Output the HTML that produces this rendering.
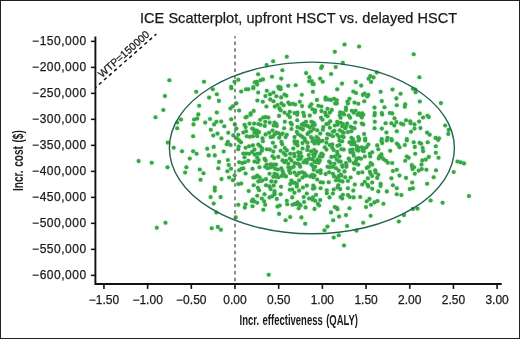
<!DOCTYPE html>
<html><head><meta charset="utf-8"><style>
html,body{margin:0;padding:0;background:#fff;}
svg{display:block;}
text{font-family:"Liberation Sans",Arial,sans-serif;fill:#1a1a1a;}
.b{stroke:#1a1a1a;stroke-width:0.25px;}
</style></head><body>
<svg width="520" height="339" viewBox="0 0 520 339">
<rect x="0.5" y="0.5" width="519" height="338" fill="#fff" stroke="#222" stroke-width="1"/>
<text x="140" y="23" font-size="14.5" textLength="317.2" lengthAdjust="spacing" class="b">ICE Scatterplot, upfront HSCT vs. delayed HSCT</text>
<g fill="#37a647" style="filter:drop-shadow(0 0 1px rgba(110,210,120,0.5))"><circle cx="169.4" cy="80.2" r="2.05"/><circle cx="164.9" cy="96.0" r="2.05"/><circle cx="163.3" cy="110.0" r="2.05"/><circle cx="155.5" cy="117.2" r="2.05"/><circle cx="199.2" cy="105.8" r="2.05"/><circle cx="196.2" cy="91.8" r="2.05"/><circle cx="138.6" cy="161.1" r="2.05"/><circle cx="151.7" cy="162.8" r="2.05"/><circle cx="167.5" cy="167.2" r="2.05"/><circle cx="167.8" cy="142.6" r="2.05"/><circle cx="173.7" cy="147.7" r="2.05"/><circle cx="165.5" cy="222.8" r="2.05"/><circle cx="156.8" cy="227.8" r="2.05"/><circle cx="204.0" cy="81.7" r="2.05"/><circle cx="234.5" cy="81.7" r="2.05"/><circle cx="238.3" cy="79.8" r="2.05"/><circle cx="231.1" cy="86.8" r="2.05"/><circle cx="254.8" cy="82.2" r="2.05"/><circle cx="253.4" cy="87.1" r="2.05"/><circle cx="273.1" cy="61.2" r="2.05"/><circle cx="266.6" cy="65.1" r="2.05"/><circle cx="282.4" cy="70.3" r="2.05"/><circle cx="258.1" cy="74.2" r="2.05"/><circle cx="272.0" cy="76.8" r="2.05"/><circle cx="281.2" cy="78.6" r="2.05"/><circle cx="260.5" cy="80.2" r="2.05"/><circle cx="263.0" cy="79.4" r="2.05"/><circle cx="256.8" cy="81.9" r="2.05"/><circle cx="257.2" cy="84.4" r="2.05"/><circle cx="278.3" cy="86.9" r="2.05"/><circle cx="280.4" cy="87.3" r="2.05"/><circle cx="288.2" cy="85.8" r="2.05"/><circle cx="295.7" cy="85.2" r="2.05"/><circle cx="286.8" cy="56.8" r="2.05"/><circle cx="334.8" cy="51.8" r="2.05"/><circle cx="306.1" cy="73.1" r="2.05"/><circle cx="309.4" cy="77.2" r="2.05"/><circle cx="309.2" cy="81.3" r="2.05"/><circle cx="311.7" cy="81.1" r="2.05"/><circle cx="312.5" cy="84.0" r="2.05"/><circle cx="313.8" cy="84.1" r="2.05"/><circle cx="322.0" cy="66.4" r="2.05"/><circle cx="321.2" cy="67.9" r="2.05"/><circle cx="320.1" cy="78.6" r="2.05"/><circle cx="322.7" cy="81.7" r="2.05"/><circle cx="331.1" cy="74.0" r="2.05"/><circle cx="335.7" cy="67.0" r="2.05"/><circle cx="344.5" cy="44.5" r="2.05"/><circle cx="359.1" cy="46.5" r="2.05"/><circle cx="413.7" cy="54.2" r="2.05"/><circle cx="376.8" cy="72.5" r="2.05"/><circle cx="342.8" cy="62.9" r="2.05"/><circle cx="370.3" cy="76.1" r="2.05"/><circle cx="373.6" cy="77.4" r="2.05"/><circle cx="368.6" cy="78.8" r="2.05"/><circle cx="371.1" cy="81.9" r="2.05"/><circle cx="355.8" cy="82.1" r="2.05"/><circle cx="342.0" cy="83.6" r="2.05"/><circle cx="361.2" cy="85.6" r="2.05"/><circle cx="419.4" cy="77.2" r="2.05"/><circle cx="231.4" cy="88.2" r="2.05"/><circle cx="216.8" cy="94.2" r="2.05"/><circle cx="218.9" cy="100.9" r="2.05"/><circle cx="236.4" cy="103.2" r="2.05"/><circle cx="232.8" cy="106.3" r="2.05"/><circle cx="230.5" cy="108.4" r="2.05"/><circle cx="239.1" cy="110.5" r="2.05"/><circle cx="216.8" cy="112.5" r="2.05"/><circle cx="241.2" cy="91.5" r="2.05"/><circle cx="246.0" cy="89.2" r="2.05"/><circle cx="248.3" cy="89.2" r="2.05"/><circle cx="253.3" cy="88.2" r="2.05"/><circle cx="253.7" cy="110.9" r="2.05"/><circle cx="250.6" cy="113.4" r="2.05"/><circle cx="216.4" cy="121.7" r="2.05"/><circle cx="221.2" cy="121.5" r="2.05"/><circle cx="224.3" cy="126.3" r="2.05"/><circle cx="231.2" cy="119.2" r="2.05"/><circle cx="234.8" cy="124.4" r="2.05"/><circle cx="236.4" cy="128.6" r="2.05"/><circle cx="228.3" cy="132.8" r="2.05"/><circle cx="217.5" cy="133.6" r="2.05"/><circle cx="221.4" cy="138.2" r="2.05"/><circle cx="233.3" cy="135.4" r="2.05"/><circle cx="238.3" cy="134.8" r="2.05"/><circle cx="236.8" cy="138.2" r="2.05"/><circle cx="245.6" cy="117.5" r="2.05"/><circle cx="246.8" cy="116.7" r="2.05"/><circle cx="250.6" cy="114.8" r="2.05"/><circle cx="244.5" cy="124.8" r="2.05"/><circle cx="245.6" cy="127.1" r="2.05"/><circle cx="249.5" cy="123.6" r="2.05"/><circle cx="254.1" cy="123.6" r="2.05"/><circle cx="243.3" cy="132.5" r="2.05"/><circle cx="246.0" cy="131.3" r="2.05"/><circle cx="246.8" cy="136.3" r="2.05"/><circle cx="249.8" cy="136.7" r="2.05"/><circle cx="252.9" cy="136.3" r="2.05"/><circle cx="253.7" cy="129.4" r="2.05"/><circle cx="254.5" cy="132.5" r="2.05"/><circle cx="252.2" cy="128.6" r="2.05"/><circle cx="212.8" cy="89.2" r="2.05"/><circle cx="209.1" cy="97.6" r="2.05"/><circle cx="198.3" cy="114.4" r="2.05"/><circle cx="194.1" cy="119.5" r="2.05"/><circle cx="197.2" cy="118.6" r="2.05"/><circle cx="193.5" cy="124.4" r="2.05"/><circle cx="181.0" cy="119.5" r="2.05"/><circle cx="177.2" cy="122.5" r="2.05"/><circle cx="177.2" cy="128.2" r="2.05"/><circle cx="205.2" cy="122.6" r="2.05"/><circle cx="210.0" cy="119.0" r="2.05"/><circle cx="214.1" cy="124.4" r="2.05"/><circle cx="210.8" cy="129.8" r="2.05"/><circle cx="213.3" cy="135.5" r="2.05"/><circle cx="193.1" cy="136.3" r="2.05"/><circle cx="258.2" cy="92.5" r="2.05"/><circle cx="266.8" cy="90.7" r="2.05"/><circle cx="279.1" cy="88.4" r="2.05"/><circle cx="280.6" cy="89.2" r="2.05"/><circle cx="270.0" cy="94.2" r="2.05"/><circle cx="273.5" cy="92.5" r="2.05"/><circle cx="265.4" cy="96.1" r="2.05"/><circle cx="276.4" cy="96.3" r="2.05"/><circle cx="281.2" cy="97.4" r="2.05"/><circle cx="284.5" cy="94.5" r="2.05"/><circle cx="286.4" cy="95.7" r="2.05"/><circle cx="257.4" cy="100.5" r="2.05"/><circle cx="262.8" cy="101.7" r="2.05"/><circle cx="270.2" cy="99.4" r="2.05"/><circle cx="273.5" cy="101.2" r="2.05"/><circle cx="266.4" cy="106.5" r="2.05"/><circle cx="274.8" cy="106.6" r="2.05"/><circle cx="277.5" cy="105.1" r="2.05"/><circle cx="281.4" cy="103.4" r="2.05"/><circle cx="283.7" cy="105.3" r="2.05"/><circle cx="288.3" cy="102.6" r="2.05"/><circle cx="289.8" cy="104.2" r="2.05"/><circle cx="292.9" cy="103.8" r="2.05"/><circle cx="295.2" cy="104.5" r="2.05"/><circle cx="279.5" cy="108.4" r="2.05"/><circle cx="280.6" cy="110.3" r="2.05"/><circle cx="284.5" cy="112.6" r="2.05"/><circle cx="289.8" cy="111.8" r="2.05"/><circle cx="294.5" cy="113.0" r="2.05"/><circle cx="312.9" cy="91.8" r="2.05"/><circle cx="301.8" cy="94.8" r="2.05"/><circle cx="316.9" cy="99.9" r="2.05"/><circle cx="299.8" cy="101.7" r="2.05"/><circle cx="302.0" cy="106.1" r="2.05"/><circle cx="311.4" cy="104.2" r="2.05"/><circle cx="309.8" cy="106.5" r="2.05"/><circle cx="312.5" cy="109.2" r="2.05"/><circle cx="315.2" cy="110.3" r="2.05"/><circle cx="314.8" cy="112.2" r="2.05"/><circle cx="318.3" cy="105.7" r="2.05"/><circle cx="321.4" cy="106.5" r="2.05"/><circle cx="321.4" cy="111.1" r="2.05"/><circle cx="325.6" cy="97.6" r="2.05"/><circle cx="325.6" cy="99.5" r="2.05"/><circle cx="328.3" cy="99.5" r="2.05"/><circle cx="331.0" cy="99.9" r="2.05"/><circle cx="334.1" cy="98.8" r="2.05"/><circle cx="335.2" cy="103.4" r="2.05"/><circle cx="327.5" cy="108.8" r="2.05"/><circle cx="331.8" cy="109.9" r="2.05"/><circle cx="325.2" cy="112.6" r="2.05"/><circle cx="329.8" cy="112.6" r="2.05"/><circle cx="297.5" cy="112.6" r="2.05"/><circle cx="303.3" cy="112.8" r="2.05"/><circle cx="260.2" cy="119.8" r="2.05"/><circle cx="263.3" cy="117.5" r="2.05"/><circle cx="265.6" cy="117.1" r="2.05"/><circle cx="268.3" cy="117.5" r="2.05"/><circle cx="265.2" cy="121.7" r="2.05"/><circle cx="258.3" cy="124.0" r="2.05"/><circle cx="260.6" cy="124.8" r="2.05"/><circle cx="264.8" cy="125.9" r="2.05"/><circle cx="269.7" cy="122.6" r="2.05"/><circle cx="274.5" cy="122.5" r="2.05"/><circle cx="276.4" cy="124.0" r="2.05"/><circle cx="273.7" cy="125.5" r="2.05"/><circle cx="276.8" cy="125.9" r="2.05"/><circle cx="279.1" cy="115.9" r="2.05"/><circle cx="284.8" cy="121.7" r="2.05"/><circle cx="284.1" cy="128.2" r="2.05"/><circle cx="289.8" cy="117.1" r="2.05"/><circle cx="290.6" cy="122.8" r="2.05"/><circle cx="291.8" cy="124.4" r="2.05"/><circle cx="291.4" cy="129.0" r="2.05"/><circle cx="287.9" cy="114.8" r="2.05"/><circle cx="256.8" cy="130.5" r="2.05"/><circle cx="259.1" cy="132.1" r="2.05"/><circle cx="256.8" cy="134.0" r="2.05"/><circle cx="257.2" cy="136.3" r="2.05"/><circle cx="272.5" cy="130.5" r="2.05"/><circle cx="269.1" cy="132.8" r="2.05"/><circle cx="265.6" cy="134.4" r="2.05"/><circle cx="276.4" cy="132.5" r="2.05"/><circle cx="278.3" cy="133.2" r="2.05"/><circle cx="280.6" cy="134.8" r="2.05"/><circle cx="282.5" cy="133.6" r="2.05"/><circle cx="274.5" cy="134.4" r="2.05"/><circle cx="270.6" cy="137.1" r="2.05"/><circle cx="272.9" cy="136.7" r="2.05"/><circle cx="262.5" cy="138.2" r="2.05"/><circle cx="279.1" cy="137.8" r="2.05"/><circle cx="286.8" cy="134.8" r="2.05"/><circle cx="285.6" cy="137.1" r="2.05"/><circle cx="294.5" cy="137.1" r="2.05"/><circle cx="297.2" cy="114.8" r="2.05"/><circle cx="304.1" cy="115.9" r="2.05"/><circle cx="309.8" cy="115.5" r="2.05"/><circle cx="297.2" cy="120.2" r="2.05"/><circle cx="321.0" cy="117.8" r="2.05"/><circle cx="322.5" cy="119.8" r="2.05"/><circle cx="326.0" cy="115.2" r="2.05"/><circle cx="327.5" cy="116.3" r="2.05"/><circle cx="330.2" cy="121.3" r="2.05"/><circle cx="306.0" cy="121.7" r="2.05"/><circle cx="303.3" cy="123.6" r="2.05"/><circle cx="301.8" cy="124.8" r="2.05"/><circle cx="304.5" cy="125.5" r="2.05"/><circle cx="311.4" cy="121.7" r="2.05"/><circle cx="313.7" cy="122.8" r="2.05"/><circle cx="312.5" cy="125.5" r="2.05"/><circle cx="314.8" cy="124.8" r="2.05"/><circle cx="307.5" cy="125.9" r="2.05"/><circle cx="309.8" cy="127.5" r="2.05"/><circle cx="297.5" cy="127.1" r="2.05"/><circle cx="300.6" cy="128.2" r="2.05"/><circle cx="302.9" cy="129.4" r="2.05"/><circle cx="313.7" cy="129.0" r="2.05"/><circle cx="317.2" cy="130.2" r="2.05"/><circle cx="326.4" cy="124.0" r="2.05"/><circle cx="328.3" cy="123.6" r="2.05"/><circle cx="323.3" cy="127.1" r="2.05"/><circle cx="322.9" cy="129.8" r="2.05"/><circle cx="329.8" cy="127.8" r="2.05"/><circle cx="334.8" cy="125.5" r="2.05"/><circle cx="296.8" cy="131.7" r="2.05"/><circle cx="297.9" cy="134.0" r="2.05"/><circle cx="308.7" cy="132.5" r="2.05"/><circle cx="311.0" cy="131.3" r="2.05"/><circle cx="307.5" cy="134.0" r="2.05"/><circle cx="320.2" cy="133.6" r="2.05"/><circle cx="300.6" cy="135.5" r="2.05"/><circle cx="302.5" cy="137.1" r="2.05"/><circle cx="304.5" cy="138.6" r="2.05"/><circle cx="311.0" cy="137.1" r="2.05"/><circle cx="312.5" cy="138.6" r="2.05"/><circle cx="316.4" cy="137.1" r="2.05"/><circle cx="318.3" cy="138.6" r="2.05"/><circle cx="327.5" cy="134.0" r="2.05"/><circle cx="329.8" cy="134.8" r="2.05"/><circle cx="332.9" cy="131.7" r="2.05"/><circle cx="334.5" cy="130.9" r="2.05"/><circle cx="332.9" cy="136.3" r="2.05"/><circle cx="326.8" cy="138.6" r="2.05"/><circle cx="337.2" cy="89.2" r="2.05"/><circle cx="353.3" cy="91.5" r="2.05"/><circle cx="356.0" cy="93.0" r="2.05"/><circle cx="362.9" cy="94.9" r="2.05"/><circle cx="364.5" cy="93.5" r="2.05"/><circle cx="368.3" cy="94.9" r="2.05"/><circle cx="367.2" cy="96.5" r="2.05"/><circle cx="336.8" cy="100.3" r="2.05"/><circle cx="336.8" cy="103.4" r="2.05"/><circle cx="349.5" cy="98.8" r="2.05"/><circle cx="347.5" cy="101.5" r="2.05"/><circle cx="347.9" cy="103.4" r="2.05"/><circle cx="354.5" cy="102.6" r="2.05"/><circle cx="358.3" cy="103.8" r="2.05"/><circle cx="364.3" cy="101.2" r="2.05"/><circle cx="346.0" cy="107.6" r="2.05"/><circle cx="346.0" cy="109.9" r="2.05"/><circle cx="340.2" cy="112.2" r="2.05"/><circle cx="342.9" cy="113.0" r="2.05"/><circle cx="351.8" cy="110.7" r="2.05"/><circle cx="355.6" cy="110.7" r="2.05"/><circle cx="353.7" cy="112.6" r="2.05"/><circle cx="359.1" cy="113.4" r="2.05"/><circle cx="362.2" cy="113.4" r="2.05"/><circle cx="374.5" cy="107.6" r="2.05"/><circle cx="374.8" cy="113.0" r="2.05"/><circle cx="380.6" cy="91.8" r="2.05"/><circle cx="392.5" cy="89.5" r="2.05"/><circle cx="400.6" cy="93.8" r="2.05"/><circle cx="396.4" cy="98.4" r="2.05"/><circle cx="381.8" cy="101.1" r="2.05"/><circle cx="396.8" cy="105.3" r="2.05"/><circle cx="405.2" cy="104.2" r="2.05"/><circle cx="404.8" cy="106.8" r="2.05"/><circle cx="384.5" cy="107.2" r="2.05"/><circle cx="381.8" cy="113.0" r="2.05"/><circle cx="389.8" cy="113.0" r="2.05"/><circle cx="392.2" cy="113.4" r="2.05"/><circle cx="412.9" cy="88.8" r="2.05"/><circle cx="415.2" cy="89.5" r="2.05"/><circle cx="415.6" cy="92.2" r="2.05"/><circle cx="339.8" cy="115.2" r="2.05"/><circle cx="340.6" cy="117.8" r="2.05"/><circle cx="344.1" cy="114.4" r="2.05"/><circle cx="348.7" cy="115.5" r="2.05"/><circle cx="350.2" cy="117.8" r="2.05"/><circle cx="357.5" cy="114.8" r="2.05"/><circle cx="360.6" cy="115.5" r="2.05"/><circle cx="363.3" cy="114.8" r="2.05"/><circle cx="361.8" cy="117.5" r="2.05"/><circle cx="337.2" cy="121.7" r="2.05"/><circle cx="337.5" cy="124.8" r="2.05"/><circle cx="340.6" cy="122.8" r="2.05"/><circle cx="342.9" cy="124.0" r="2.05"/><circle cx="342.2" cy="126.3" r="2.05"/><circle cx="347.2" cy="123.6" r="2.05"/><circle cx="346.0" cy="126.3" r="2.05"/><circle cx="345.2" cy="128.2" r="2.05"/><circle cx="350.6" cy="126.7" r="2.05"/><circle cx="352.5" cy="127.8" r="2.05"/><circle cx="354.5" cy="128.2" r="2.05"/><circle cx="355.2" cy="122.5" r="2.05"/><circle cx="361.8" cy="123.6" r="2.05"/><circle cx="363.3" cy="124.4" r="2.05"/><circle cx="339.8" cy="130.2" r="2.05"/><circle cx="342.2" cy="131.7" r="2.05"/><circle cx="343.7" cy="132.8" r="2.05"/><circle cx="347.9" cy="132.1" r="2.05"/><circle cx="351.4" cy="131.3" r="2.05"/><circle cx="337.2" cy="134.8" r="2.05"/><circle cx="339.1" cy="137.1" r="2.05"/><circle cx="342.2" cy="136.3" r="2.05"/><circle cx="343.7" cy="137.1" r="2.05"/><circle cx="351.4" cy="137.8" r="2.05"/><circle cx="352.9" cy="139.0" r="2.05"/><circle cx="358.3" cy="137.1" r="2.05"/><circle cx="359.1" cy="139.0" r="2.05"/><circle cx="364.1" cy="134.0" r="2.05"/><circle cx="365.2" cy="138.6" r="2.05"/><circle cx="374.5" cy="115.2" r="2.05"/><circle cx="374.8" cy="121.7" r="2.05"/><circle cx="374.5" cy="128.2" r="2.05"/><circle cx="382.2" cy="114.4" r="2.05"/><circle cx="394.5" cy="118.2" r="2.05"/><circle cx="385.6" cy="123.2" r="2.05"/><circle cx="391.4" cy="123.2" r="2.05"/><circle cx="396.4" cy="122.1" r="2.05"/><circle cx="394.3" cy="125.5" r="2.05"/><circle cx="401.0" cy="123.6" r="2.05"/><circle cx="403.3" cy="124.4" r="2.05"/><circle cx="406.0" cy="120.2" r="2.05"/><circle cx="410.2" cy="121.3" r="2.05"/><circle cx="410.6" cy="123.2" r="2.05"/><circle cx="414.5" cy="124.4" r="2.05"/><circle cx="414.5" cy="128.6" r="2.05"/><circle cx="381.8" cy="128.6" r="2.05"/><circle cx="396.8" cy="131.3" r="2.05"/><circle cx="386.4" cy="132.5" r="2.05"/><circle cx="411.0" cy="131.7" r="2.05"/><circle cx="381.8" cy="139.0" r="2.05"/><circle cx="387.5" cy="137.8" r="2.05"/><circle cx="391.4" cy="139.0" r="2.05"/><circle cx="406.8" cy="139.0" r="2.05"/><circle cx="419.8" cy="101.5" r="2.05"/><circle cx="440.9" cy="103.1" r="2.05"/><circle cx="419.7" cy="113.5" r="2.05"/><circle cx="423.1" cy="117.5" r="2.05"/><circle cx="427.5" cy="115.8" r="2.05"/><circle cx="428.8" cy="117.1" r="2.05"/><circle cx="419.1" cy="121.5" r="2.05"/><circle cx="420.4" cy="128.1" r="2.05"/><circle cx="427.1" cy="132.6" r="2.05"/><circle cx="429.7" cy="134.8" r="2.05"/><circle cx="435.5" cy="137.9" r="2.05"/><circle cx="439.0" cy="138.3" r="2.05"/><circle cx="445.2" cy="125.5" r="2.05"/><circle cx="448.7" cy="129.9" r="2.05"/><circle cx="448.3" cy="133.9" r="2.05"/><circle cx="182.0" cy="151.2" r="2.05"/><circle cx="193.1" cy="151.2" r="2.05"/><circle cx="196.6" cy="153.7" r="2.05"/><circle cx="189.8" cy="158.5" r="2.05"/><circle cx="207.2" cy="148.8" r="2.05"/><circle cx="213.7" cy="146.9" r="2.05"/><circle cx="208.7" cy="155.4" r="2.05"/><circle cx="214.8" cy="155.4" r="2.05"/><circle cx="227.9" cy="141.9" r="2.05"/><circle cx="226.8" cy="144.2" r="2.05"/><circle cx="230.6" cy="145.0" r="2.05"/><circle cx="239.1" cy="140.4" r="2.05"/><circle cx="241.0" cy="142.3" r="2.05"/><circle cx="238.7" cy="146.5" r="2.05"/><circle cx="238.3" cy="149.2" r="2.05"/><circle cx="223.7" cy="151.5" r="2.05"/><circle cx="245.6" cy="147.7" r="2.05"/><circle cx="249.1" cy="146.2" r="2.05"/><circle cx="252.9" cy="145.4" r="2.05"/><circle cx="243.3" cy="153.5" r="2.05"/><circle cx="246.4" cy="153.5" r="2.05"/><circle cx="249.1" cy="153.8" r="2.05"/><circle cx="252.2" cy="151.9" r="2.05"/><circle cx="254.5" cy="149.6" r="2.05"/><circle cx="254.8" cy="154.6" r="2.05"/><circle cx="244.5" cy="157.3" r="2.05"/><circle cx="219.1" cy="161.9" r="2.05"/><circle cx="227.9" cy="160.0" r="2.05"/><circle cx="228.7" cy="165.0" r="2.05"/><circle cx="239.1" cy="162.3" r="2.05"/><circle cx="242.2" cy="163.1" r="2.05"/><circle cx="244.8" cy="162.3" r="2.05"/><circle cx="248.3" cy="160.8" r="2.05"/><circle cx="254.5" cy="161.5" r="2.05"/><circle cx="186.4" cy="167.2" r="2.05"/><circle cx="185.1" cy="172.5" r="2.05"/><circle cx="199.8" cy="169.5" r="2.05"/><circle cx="203.5" cy="173.3" r="2.05"/><circle cx="200.6" cy="179.8" r="2.05"/><circle cx="214.8" cy="187.5" r="2.05"/><circle cx="214.8" cy="190.6" r="2.05"/><circle cx="218.3" cy="168.3" r="2.05"/><circle cx="231.0" cy="168.7" r="2.05"/><circle cx="227.4" cy="171.2" r="2.05"/><circle cx="239.1" cy="170.2" r="2.05"/><circle cx="241.4" cy="168.7" r="2.05"/><circle cx="243.3" cy="168.3" r="2.05"/><circle cx="252.5" cy="168.7" r="2.05"/><circle cx="245.6" cy="173.5" r="2.05"/><circle cx="234.6" cy="175.2" r="2.05"/><circle cx="229.1" cy="177.5" r="2.05"/><circle cx="221.5" cy="179.1" r="2.05"/><circle cx="232.9" cy="180.2" r="2.05"/><circle cx="238.3" cy="184.1" r="2.05"/><circle cx="241.2" cy="183.5" r="2.05"/><circle cx="253.3" cy="177.5" r="2.05"/><circle cx="255.2" cy="177.2" r="2.05"/><circle cx="253.7" cy="185.2" r="2.05"/><circle cx="248.7" cy="191.0" r="2.05"/><circle cx="262.9" cy="141.2" r="2.05"/><circle cx="272.9" cy="142.7" r="2.05"/><circle cx="281.4" cy="141.9" r="2.05"/><circle cx="282.2" cy="144.2" r="2.05"/><circle cx="294.5" cy="141.2" r="2.05"/><circle cx="295.2" cy="143.5" r="2.05"/><circle cx="258.3" cy="144.6" r="2.05"/><circle cx="260.2" cy="146.2" r="2.05"/><circle cx="275.2" cy="146.8" r="2.05"/><circle cx="262.2" cy="148.5" r="2.05"/><circle cx="261.8" cy="150.8" r="2.05"/><circle cx="266.8" cy="149.2" r="2.05"/><circle cx="269.8" cy="149.6" r="2.05"/><circle cx="273.3" cy="151.5" r="2.05"/><circle cx="280.6" cy="150.8" r="2.05"/><circle cx="284.8" cy="148.1" r="2.05"/><circle cx="286.8" cy="150.4" r="2.05"/><circle cx="293.3" cy="148.5" r="2.05"/><circle cx="257.5" cy="153.8" r="2.05"/><circle cx="259.8" cy="153.5" r="2.05"/><circle cx="283.7" cy="153.1" r="2.05"/><circle cx="285.6" cy="155.0" r="2.05"/><circle cx="290.2" cy="153.8" r="2.05"/><circle cx="294.1" cy="153.8" r="2.05"/><circle cx="294.5" cy="156.2" r="2.05"/><circle cx="272.5" cy="156.2" r="2.05"/><circle cx="274.1" cy="158.1" r="2.05"/><circle cx="278.3" cy="156.9" r="2.05"/><circle cx="257.2" cy="157.7" r="2.05"/><circle cx="258.7" cy="160.0" r="2.05"/><circle cx="257.5" cy="162.3" r="2.05"/><circle cx="264.5" cy="158.8" r="2.05"/><circle cx="265.6" cy="160.4" r="2.05"/><circle cx="282.5" cy="160.4" r="2.05"/><circle cx="284.5" cy="162.3" r="2.05"/><circle cx="286.0" cy="160.8" r="2.05"/><circle cx="289.8" cy="158.5" r="2.05"/><circle cx="291.4" cy="160.4" r="2.05"/><circle cx="266.8" cy="164.6" r="2.05"/><circle cx="270.6" cy="164.2" r="2.05"/><circle cx="273.7" cy="164.6" r="2.05"/><circle cx="276.0" cy="164.6" r="2.05"/><circle cx="288.3" cy="163.8" r="2.05"/><circle cx="294.5" cy="163.1" r="2.05"/><circle cx="297.2" cy="141.9" r="2.05"/><circle cx="297.5" cy="145.4" r="2.05"/><circle cx="302.5" cy="143.1" r="2.05"/><circle cx="305.2" cy="140.8" r="2.05"/><circle cx="307.5" cy="142.7" r="2.05"/><circle cx="312.5" cy="141.2" r="2.05"/><circle cx="315.2" cy="140.8" r="2.05"/><circle cx="317.9" cy="141.5" r="2.05"/><circle cx="320.6" cy="141.2" r="2.05"/><circle cx="322.5" cy="140.8" r="2.05"/><circle cx="314.5" cy="143.5" r="2.05"/><circle cx="318.3" cy="143.5" r="2.05"/><circle cx="326.4" cy="142.7" r="2.05"/><circle cx="329.8" cy="145.0" r="2.05"/><circle cx="332.2" cy="144.2" r="2.05"/><circle cx="307.9" cy="146.9" r="2.05"/><circle cx="307.2" cy="150.0" r="2.05"/><circle cx="302.5" cy="148.5" r="2.05"/><circle cx="324.8" cy="147.3" r="2.05"/><circle cx="326.4" cy="149.6" r="2.05"/><circle cx="332.2" cy="147.7" r="2.05"/><circle cx="333.7" cy="150.0" r="2.05"/><circle cx="311.0" cy="151.2" r="2.05"/><circle cx="314.1" cy="150.0" r="2.05"/><circle cx="316.0" cy="151.5" r="2.05"/><circle cx="298.3" cy="152.3" r="2.05"/><circle cx="300.6" cy="152.7" r="2.05"/><circle cx="313.3" cy="154.2" r="2.05"/><circle cx="315.2" cy="153.5" r="2.05"/><circle cx="321.4" cy="153.5" r="2.05"/><circle cx="322.9" cy="154.6" r="2.05"/><circle cx="308.7" cy="155.0" r="2.05"/><circle cx="299.1" cy="155.8" r="2.05"/><circle cx="301.4" cy="156.5" r="2.05"/><circle cx="319.8" cy="156.2" r="2.05"/><circle cx="322.2" cy="156.5" r="2.05"/><circle cx="314.1" cy="156.2" r="2.05"/><circle cx="331.4" cy="156.9" r="2.05"/><circle cx="334.8" cy="156.5" r="2.05"/><circle cx="298.3" cy="159.2" r="2.05"/><circle cx="300.6" cy="158.8" r="2.05"/><circle cx="305.2" cy="160.4" r="2.05"/><circle cx="307.5" cy="159.6" r="2.05"/><circle cx="309.8" cy="158.8" r="2.05"/><circle cx="312.5" cy="159.2" r="2.05"/><circle cx="317.5" cy="159.6" r="2.05"/><circle cx="319.8" cy="160.4" r="2.05"/><circle cx="303.7" cy="162.3" r="2.05"/><circle cx="306.8" cy="162.7" r="2.05"/><circle cx="314.5" cy="161.9" r="2.05"/><circle cx="316.8" cy="162.3" r="2.05"/><circle cx="318.7" cy="162.7" r="2.05"/><circle cx="329.1" cy="161.5" r="2.05"/><circle cx="330.6" cy="163.1" r="2.05"/><circle cx="297.5" cy="163.5" r="2.05"/><circle cx="299.5" cy="164.6" r="2.05"/><circle cx="311.4" cy="164.6" r="2.05"/><circle cx="334.5" cy="163.8" r="2.05"/><circle cx="339.5" cy="140.8" r="2.05"/><circle cx="342.2" cy="141.2" r="2.05"/><circle cx="349.5" cy="142.3" r="2.05"/><circle cx="352.2" cy="141.2" r="2.05"/><circle cx="354.5" cy="142.3" r="2.05"/><circle cx="351.4" cy="144.2" r="2.05"/><circle cx="354.1" cy="144.2" r="2.05"/><circle cx="358.7" cy="140.4" r="2.05"/><circle cx="365.2" cy="140.4" r="2.05"/><circle cx="337.5" cy="145.8" r="2.05"/><circle cx="339.5" cy="145.0" r="2.05"/><circle cx="341.4" cy="149.2" r="2.05"/><circle cx="343.7" cy="149.6" r="2.05"/><circle cx="356.8" cy="146.2" r="2.05"/><circle cx="358.3" cy="147.7" r="2.05"/><circle cx="356.8" cy="149.6" r="2.05"/><circle cx="358.3" cy="150.8" r="2.05"/><circle cx="361.8" cy="147.3" r="2.05"/><circle cx="364.1" cy="148.5" r="2.05"/><circle cx="366.4" cy="147.3" r="2.05"/><circle cx="368.3" cy="144.6" r="2.05"/><circle cx="362.5" cy="150.4" r="2.05"/><circle cx="363.7" cy="151.2" r="2.05"/><circle cx="350.2" cy="150.0" r="2.05"/><circle cx="352.5" cy="149.6" r="2.05"/><circle cx="350.6" cy="152.3" r="2.05"/><circle cx="353.3" cy="153.1" r="2.05"/><circle cx="353.7" cy="155.8" r="2.05"/><circle cx="337.2" cy="151.9" r="2.05"/><circle cx="337.5" cy="154.2" r="2.05"/><circle cx="339.5" cy="156.5" r="2.05"/><circle cx="364.8" cy="156.5" r="2.05"/><circle cx="369.8" cy="153.8" r="2.05"/><circle cx="372.2" cy="152.3" r="2.05"/><circle cx="370.2" cy="156.5" r="2.05"/><circle cx="336.8" cy="159.6" r="2.05"/><circle cx="339.1" cy="161.5" r="2.05"/><circle cx="340.6" cy="161.5" r="2.05"/><circle cx="348.7" cy="158.5" r="2.05"/><circle cx="349.8" cy="160.8" r="2.05"/><circle cx="356.8" cy="158.5" r="2.05"/><circle cx="359.1" cy="158.1" r="2.05"/><circle cx="361.0" cy="158.8" r="2.05"/><circle cx="356.0" cy="160.8" r="2.05"/><circle cx="346.0" cy="163.1" r="2.05"/><circle cx="346.4" cy="165.0" r="2.05"/><circle cx="353.7" cy="163.1" r="2.05"/><circle cx="356.0" cy="163.8" r="2.05"/><circle cx="358.3" cy="164.6" r="2.05"/><circle cx="370.6" cy="163.1" r="2.05"/><circle cx="372.2" cy="164.6" r="2.05"/><circle cx="342.2" cy="165.4" r="2.05"/><circle cx="381.4" cy="140.8" r="2.05"/><circle cx="382.2" cy="143.1" r="2.05"/><circle cx="386.8" cy="140.4" r="2.05"/><circle cx="391.8" cy="140.4" r="2.05"/><circle cx="406.8" cy="140.4" r="2.05"/><circle cx="377.2" cy="145.4" r="2.05"/><circle cx="378.3" cy="149.2" r="2.05"/><circle cx="396.8" cy="143.5" r="2.05"/><circle cx="398.3" cy="145.0" r="2.05"/><circle cx="399.5" cy="147.3" r="2.05"/><circle cx="404.8" cy="145.0" r="2.05"/><circle cx="413.7" cy="142.3" r="2.05"/><circle cx="414.8" cy="146.9" r="2.05"/><circle cx="390.2" cy="150.8" r="2.05"/><circle cx="381.4" cy="154.2" r="2.05"/><circle cx="379.5" cy="156.2" r="2.05"/><circle cx="378.7" cy="158.5" r="2.05"/><circle cx="381.8" cy="157.3" r="2.05"/><circle cx="383.7" cy="159.2" r="2.05"/><circle cx="386.0" cy="160.8" r="2.05"/><circle cx="387.9" cy="162.7" r="2.05"/><circle cx="392.2" cy="163.1" r="2.05"/><circle cx="406.8" cy="156.5" r="2.05"/><circle cx="408.7" cy="157.7" r="2.05"/><circle cx="405.2" cy="160.8" r="2.05"/><circle cx="415.2" cy="153.8" r="2.05"/><circle cx="411.8" cy="165.0" r="2.05"/><circle cx="419.6" cy="142.7" r="2.05"/><circle cx="421.2" cy="143.8" r="2.05"/><circle cx="427.7" cy="142.3" r="2.05"/><circle cx="438.1" cy="140.0" r="2.05"/><circle cx="422.7" cy="148.1" r="2.05"/><circle cx="423.1" cy="151.2" r="2.05"/><circle cx="435.8" cy="146.2" r="2.05"/><circle cx="435.8" cy="152.7" r="2.05"/><circle cx="428.8" cy="156.9" r="2.05"/><circle cx="425.8" cy="159.6" r="2.05"/><circle cx="422.3" cy="160.4" r="2.05"/><circle cx="438.5" cy="157.8" r="2.05"/><circle cx="421.5" cy="164.6" r="2.05"/><circle cx="436.0" cy="170.3" r="2.05"/><circle cx="433.7" cy="177.2" r="2.05"/><circle cx="427.1" cy="183.8" r="2.05"/><circle cx="457.5" cy="161.5" r="2.05"/><circle cx="460.6" cy="162.3" r="2.05"/><circle cx="464.0" cy="163.4" r="2.05"/><circle cx="453.7" cy="172.0" r="2.05"/><circle cx="412.2" cy="166.8" r="2.05"/><circle cx="414.1" cy="167.2" r="2.05"/><circle cx="412.5" cy="169.1" r="2.05"/><circle cx="396.8" cy="169.8" r="2.05"/><circle cx="421.8" cy="169.1" r="2.05"/><circle cx="418.7" cy="170.6" r="2.05"/><circle cx="426.4" cy="169.8" r="2.05"/><circle cx="414.8" cy="173.7" r="2.05"/><circle cx="399.5" cy="175.6" r="2.05"/><circle cx="406.0" cy="177.9" r="2.05"/><circle cx="412.2" cy="182.5" r="2.05"/><circle cx="396.8" cy="188.3" r="2.05"/><circle cx="409.8" cy="189.1" r="2.05"/><circle cx="412.9" cy="188.3" r="2.05"/><circle cx="366.8" cy="167.9" r="2.05"/><circle cx="368.7" cy="166.8" r="2.05"/><circle cx="358.3" cy="172.9" r="2.05"/><circle cx="362.3" cy="172.3" r="2.05"/><circle cx="369.8" cy="171.8" r="2.05"/><circle cx="370.6" cy="173.7" r="2.05"/><circle cx="375.2" cy="170.2" r="2.05"/><circle cx="375.6" cy="172.5" r="2.05"/><circle cx="372.2" cy="176.0" r="2.05"/><circle cx="378.3" cy="174.8" r="2.05"/><circle cx="377.2" cy="177.9" r="2.05"/><circle cx="367.9" cy="178.3" r="2.05"/><circle cx="392.9" cy="171.0" r="2.05"/><circle cx="391.4" cy="178.3" r="2.05"/><circle cx="364.8" cy="181.8" r="2.05"/><circle cx="362.2" cy="184.5" r="2.05"/><circle cx="367.5" cy="184.8" r="2.05"/><circle cx="368.3" cy="186.4" r="2.05"/><circle cx="372.2" cy="182.5" r="2.05"/><circle cx="380.6" cy="183.7" r="2.05"/><circle cx="380.6" cy="186.0" r="2.05"/><circle cx="372.2" cy="188.7" r="2.05"/><circle cx="392.9" cy="185.2" r="2.05"/><circle cx="378.3" cy="191.4" r="2.05"/><circle cx="386.8" cy="191.4" r="2.05"/><circle cx="259.5" cy="167.2" r="2.05"/><circle cx="265.2" cy="166.8" r="2.05"/><circle cx="267.5" cy="168.3" r="2.05"/><circle cx="270.2" cy="167.5" r="2.05"/><circle cx="272.5" cy="166.8" r="2.05"/><circle cx="275.2" cy="168.7" r="2.05"/><circle cx="277.9" cy="169.5" r="2.05"/><circle cx="281.4" cy="168.3" r="2.05"/><circle cx="282.5" cy="171.0" r="2.05"/><circle cx="283.3" cy="173.3" r="2.05"/><circle cx="288.3" cy="167.2" r="2.05"/><circle cx="291.0" cy="167.9" r="2.05"/><circle cx="293.7" cy="166.8" r="2.05"/><circle cx="289.1" cy="170.6" r="2.05"/><circle cx="290.2" cy="172.9" r="2.05"/><circle cx="294.5" cy="172.5" r="2.05"/><circle cx="269.5" cy="173.7" r="2.05"/><circle cx="274.5" cy="173.7" r="2.05"/><circle cx="276.8" cy="174.5" r="2.05"/><circle cx="273.3" cy="176.8" r="2.05"/><circle cx="276.0" cy="176.8" r="2.05"/><circle cx="278.3" cy="177.2" r="2.05"/><circle cx="281.4" cy="176.0" r="2.05"/><circle cx="284.1" cy="175.6" r="2.05"/><circle cx="286.0" cy="176.4" r="2.05"/><circle cx="257.2" cy="175.6" r="2.05"/><circle cx="259.5" cy="177.2" r="2.05"/><circle cx="266.0" cy="179.1" r="2.05"/><circle cx="258.3" cy="181.4" r="2.05"/><circle cx="261.0" cy="181.0" r="2.05"/><circle cx="262.5" cy="180.2" r="2.05"/><circle cx="271.4" cy="181.4" r="2.05"/><circle cx="275.6" cy="181.8" r="2.05"/><circle cx="291.4" cy="180.6" r="2.05"/><circle cx="292.5" cy="182.5" r="2.05"/><circle cx="290.2" cy="184.1" r="2.05"/><circle cx="294.8" cy="182.9" r="2.05"/><circle cx="266.0" cy="185.2" r="2.05"/><circle cx="269.5" cy="186.4" r="2.05"/><circle cx="273.7" cy="185.6" r="2.05"/><circle cx="281.0" cy="186.8" r="2.05"/><circle cx="257.9" cy="187.9" r="2.05"/><circle cx="259.1" cy="190.2" r="2.05"/><circle cx="270.6" cy="189.1" r="2.05"/><circle cx="274.5" cy="191.0" r="2.05"/><circle cx="289.8" cy="189.8" r="2.05"/><circle cx="292.2" cy="189.5" r="2.05"/><circle cx="300.2" cy="166.8" r="2.05"/><circle cx="313.3" cy="166.8" r="2.05"/><circle cx="315.2" cy="166.8" r="2.05"/><circle cx="313.7" cy="169.8" r="2.05"/><circle cx="317.5" cy="171.4" r="2.05"/><circle cx="320.6" cy="170.2" r="2.05"/><circle cx="320.6" cy="172.9" r="2.05"/><circle cx="327.5" cy="166.8" r="2.05"/><circle cx="329.8" cy="167.2" r="2.05"/><circle cx="332.9" cy="166.8" r="2.05"/><circle cx="329.1" cy="172.2" r="2.05"/><circle cx="325.6" cy="174.1" r="2.05"/><circle cx="332.9" cy="173.7" r="2.05"/><circle cx="334.1" cy="176.4" r="2.05"/><circle cx="296.8" cy="175.2" r="2.05"/><circle cx="299.1" cy="172.9" r="2.05"/><circle cx="302.2" cy="172.2" r="2.05"/><circle cx="304.5" cy="173.3" r="2.05"/><circle cx="304.8" cy="175.6" r="2.05"/><circle cx="306.4" cy="175.6" r="2.05"/><circle cx="302.5" cy="177.5" r="2.05"/><circle cx="310.2" cy="176.4" r="2.05"/><circle cx="312.2" cy="174.8" r="2.05"/><circle cx="314.5" cy="175.6" r="2.05"/><circle cx="313.3" cy="177.2" r="2.05"/><circle cx="299.1" cy="180.2" r="2.05"/><circle cx="317.2" cy="179.5" r="2.05"/><circle cx="320.6" cy="182.2" r="2.05"/><circle cx="322.9" cy="182.5" r="2.05"/><circle cx="328.7" cy="182.2" r="2.05"/><circle cx="296.8" cy="183.7" r="2.05"/><circle cx="296.8" cy="186.4" r="2.05"/><circle cx="306.8" cy="185.6" r="2.05"/><circle cx="302.9" cy="187.5" r="2.05"/><circle cx="313.3" cy="185.6" r="2.05"/><circle cx="314.5" cy="187.9" r="2.05"/><circle cx="312.9" cy="188.7" r="2.05"/><circle cx="320.6" cy="188.3" r="2.05"/><circle cx="326.8" cy="190.2" r="2.05"/><circle cx="333.7" cy="189.5" r="2.05"/><circle cx="299.1" cy="190.6" r="2.05"/><circle cx="336.0" cy="168.3" r="2.05"/><circle cx="338.7" cy="170.6" r="2.05"/><circle cx="342.5" cy="166.8" r="2.05"/><circle cx="346.4" cy="166.8" r="2.05"/><circle cx="344.5" cy="171.4" r="2.05"/><circle cx="340.6" cy="174.5" r="2.05"/><circle cx="341.4" cy="175.6" r="2.05"/><circle cx="338.7" cy="176.0" r="2.05"/><circle cx="337.9" cy="177.5" r="2.05"/><circle cx="345.2" cy="177.2" r="2.05"/><circle cx="350.6" cy="177.5" r="2.05"/><circle cx="336.0" cy="180.2" r="2.05"/><circle cx="339.5" cy="180.6" r="2.05"/><circle cx="342.5" cy="181.4" r="2.05"/><circle cx="347.9" cy="181.0" r="2.05"/><circle cx="354.1" cy="169.1" r="2.05"/><circle cx="354.8" cy="184.5" r="2.05"/><circle cx="338.3" cy="185.2" r="2.05"/><circle cx="337.5" cy="187.5" r="2.05"/><circle cx="340.2" cy="189.1" r="2.05"/><circle cx="347.9" cy="188.3" r="2.05"/><circle cx="353.3" cy="190.6" r="2.05"/><circle cx="210.6" cy="197.1" r="2.05"/><circle cx="220.6" cy="197.1" r="2.05"/><circle cx="213.7" cy="203.5" r="2.05"/><circle cx="216.3" cy="212.5" r="2.05"/><circle cx="235.7" cy="217.4" r="2.05"/><circle cx="211.7" cy="228.2" r="2.05"/><circle cx="217.8" cy="226.9" r="2.05"/><circle cx="220.9" cy="229.7" r="2.05"/><circle cx="238.3" cy="204.8" r="2.05"/><circle cx="245.6" cy="204.2" r="2.05"/><circle cx="244.8" cy="207.6" r="2.05"/><circle cx="252.5" cy="206.3" r="2.05"/><circle cx="252.9" cy="199.5" r="2.05"/><circle cx="251.8" cy="201.1" r="2.05"/><circle cx="254.5" cy="201.5" r="2.05"/><circle cx="264.5" cy="194.2" r="2.05"/><circle cx="261.8" cy="198.5" r="2.05"/><circle cx="264.1" cy="201.2" r="2.05"/><circle cx="265.2" cy="204.7" r="2.05"/><circle cx="257.2" cy="202.8" r="2.05"/><circle cx="257.2" cy="195.8" r="2.05"/><circle cx="269.5" cy="197.4" r="2.05"/><circle cx="272.2" cy="196.2" r="2.05"/><circle cx="274.5" cy="194.3" r="2.05"/><circle cx="274.5" cy="192.4" r="2.05"/><circle cx="276.8" cy="198.9" r="2.05"/><circle cx="280.6" cy="194.3" r="2.05"/><circle cx="277.5" cy="206.6" r="2.05"/><circle cx="279.8" cy="205.5" r="2.05"/><circle cx="263.3" cy="209.7" r="2.05"/><circle cx="279.1" cy="213.9" r="2.05"/><circle cx="286.8" cy="200.8" r="2.05"/><circle cx="287.2" cy="204.3" r="2.05"/><circle cx="292.2" cy="197.4" r="2.05"/><circle cx="292.5" cy="204.7" r="2.05"/><circle cx="294.8" cy="203.9" r="2.05"/><circle cx="294.5" cy="192.8" r="2.05"/><circle cx="290.2" cy="217.0" r="2.05"/><circle cx="306.8" cy="193.5" r="2.05"/><circle cx="316.0" cy="194.7" r="2.05"/><circle cx="303.7" cy="197.0" r="2.05"/><circle cx="309.1" cy="198.5" r="2.05"/><circle cx="312.9" cy="197.4" r="2.05"/><circle cx="312.5" cy="199.7" r="2.05"/><circle cx="315.2" cy="200.8" r="2.05"/><circle cx="320.2" cy="200.1" r="2.05"/><circle cx="297.5" cy="202.4" r="2.05"/><circle cx="299.5" cy="204.3" r="2.05"/><circle cx="296.8" cy="204.3" r="2.05"/><circle cx="300.6" cy="205.5" r="2.05"/><circle cx="304.1" cy="202.0" r="2.05"/><circle cx="317.9" cy="203.9" r="2.05"/><circle cx="319.1" cy="205.5" r="2.05"/><circle cx="305.6" cy="207.4" r="2.05"/><circle cx="298.7" cy="208.2" r="2.05"/><circle cx="314.5" cy="208.9" r="2.05"/><circle cx="326.8" cy="193.2" r="2.05"/><circle cx="332.9" cy="193.5" r="2.05"/><circle cx="329.5" cy="197.4" r="2.05"/><circle cx="334.8" cy="207.0" r="2.05"/><circle cx="331.0" cy="212.4" r="2.05"/><circle cx="301.4" cy="217.4" r="2.05"/><circle cx="342.9" cy="194.7" r="2.05"/><circle cx="340.6" cy="197.0" r="2.05"/><circle cx="342.2" cy="198.5" r="2.05"/><circle cx="347.9" cy="195.1" r="2.05"/><circle cx="349.8" cy="197.0" r="2.05"/><circle cx="353.7" cy="197.4" r="2.05"/><circle cx="360.2" cy="197.0" r="2.05"/><circle cx="369.5" cy="198.9" r="2.05"/><circle cx="366.8" cy="201.2" r="2.05"/><circle cx="371.0" cy="204.7" r="2.05"/><circle cx="374.5" cy="202.4" r="2.05"/><circle cx="366.0" cy="207.0" r="2.05"/><circle cx="336.8" cy="207.8" r="2.05"/><circle cx="337.5" cy="209.3" r="2.05"/><circle cx="349.5" cy="208.2" r="2.05"/><circle cx="346.0" cy="215.1" r="2.05"/><circle cx="339.1" cy="216.6" r="2.05"/><circle cx="370.6" cy="215.8" r="2.05"/><circle cx="396.8" cy="194.3" r="2.05"/><circle cx="401.4" cy="195.1" r="2.05"/><circle cx="377.5" cy="201.0" r="2.05"/><circle cx="383.4" cy="203.8" r="2.05"/><circle cx="430.6" cy="200.5" r="2.05"/><circle cx="442.6" cy="202.8" r="2.05"/><circle cx="412.9" cy="208.9" r="2.05"/><circle cx="417.5" cy="208.6" r="2.05"/><circle cx="404.0" cy="215.1" r="2.05"/><circle cx="398.8" cy="221.5" r="2.05"/><circle cx="285.6" cy="220.3" r="2.05"/><circle cx="305.2" cy="223.7" r="2.05"/><circle cx="333.2" cy="220.2" r="2.05"/><circle cx="327.5" cy="226.6" r="2.05"/><circle cx="324.5" cy="230.2" r="2.05"/><circle cx="347.1" cy="226.0" r="2.05"/><circle cx="363.2" cy="222.8" r="2.05"/><circle cx="356.5" cy="230.6" r="2.05"/><circle cx="333.7" cy="237.5" r="2.05"/><circle cx="338.8" cy="235.2" r="2.05"/><circle cx="344.0" cy="245.5" r="2.05"/><circle cx="468.9" cy="196.1" r="2.05"/><circle cx="268.7" cy="274.8" r="2.05"/></g>
<ellipse cx="311.9" cy="147.95" rx="142.5" ry="85.85" fill="none" stroke="#236150" stroke-width="1.4"/>
<line x1="235.0" y1="36.2" x2="235.0" y2="283" stroke="#666" stroke-width="1.5" stroke-dasharray="3.5 3.25" stroke-dashoffset="1.45"/>
<line x1="95.21" y1="87.76" x2="156.37" y2="34.06" stroke="#111" stroke-width="1.5" stroke-dasharray="3.4 3.32" stroke-dashoffset="1.7"/>
<path d="M95.4 36.4 V283.95 H501.7" fill="none" stroke="#111" stroke-width="1.9"/>
<line x1="90.9" y1="41.36" x2="95.4" y2="41.36" stroke="#111" stroke-width="1.5"/>
<text x="86.73" y="45.16" font-size="12" text-anchor="end" letter-spacing="0.53" class="b">−<tspan dx="0.1">150,000</tspan></text>
<line x1="90.9" y1="67.36" x2="95.4" y2="67.36" stroke="#111" stroke-width="1.5"/>
<text x="86.73" y="71.16" font-size="12" text-anchor="end" letter-spacing="0.53" class="b">−<tspan dx="0.1">200,000</tspan></text>
<line x1="90.9" y1="93.36" x2="95.4" y2="93.36" stroke="#111" stroke-width="1.5"/>
<text x="86.73" y="97.16" font-size="12" text-anchor="end" letter-spacing="0.53" class="b">−<tspan dx="0.1">250,000</tspan></text>
<line x1="90.9" y1="119.36" x2="95.4" y2="119.36" stroke="#111" stroke-width="1.5"/>
<text x="86.73" y="123.16" font-size="12" text-anchor="end" letter-spacing="0.53" class="b">−<tspan dx="0.1">300,000</tspan></text>
<line x1="90.9" y1="145.36" x2="95.4" y2="145.36" stroke="#111" stroke-width="1.5"/>
<text x="86.73" y="149.16" font-size="12" text-anchor="end" letter-spacing="0.53" class="b">−<tspan dx="0.1">350,000</tspan></text>
<line x1="90.9" y1="171.36" x2="95.4" y2="171.36" stroke="#111" stroke-width="1.5"/>
<text x="86.73" y="175.16" font-size="12" text-anchor="end" letter-spacing="0.53" class="b">−<tspan dx="0.1">400,000</tspan></text>
<line x1="90.9" y1="197.36" x2="95.4" y2="197.36" stroke="#111" stroke-width="1.5"/>
<text x="86.73" y="201.16" font-size="12" text-anchor="end" letter-spacing="0.53" class="b">−<tspan dx="0.1">450,000</tspan></text>
<line x1="90.9" y1="223.36" x2="95.4" y2="223.36" stroke="#111" stroke-width="1.5"/>
<text x="86.73" y="227.16" font-size="12" text-anchor="end" letter-spacing="0.53" class="b">−<tspan dx="0.1">500,000</tspan></text>
<line x1="90.9" y1="249.36" x2="95.4" y2="249.36" stroke="#111" stroke-width="1.5"/>
<text x="86.73" y="253.16" font-size="12" text-anchor="end" letter-spacing="0.53" class="b">−<tspan dx="0.1">550,000</tspan></text>
<line x1="90.9" y1="275.36" x2="95.4" y2="275.36" stroke="#111" stroke-width="1.5"/>
<text x="86.73" y="279.16" font-size="12" text-anchor="end" letter-spacing="0.53" class="b">−<tspan dx="0.1">600,000</tspan></text>
<line x1="103.94" y1="283.9" x2="103.94" y2="288.9" stroke="#111" stroke-width="1.6"/>
<text x="103.94" y="304.4" font-size="12" text-anchor="middle" class="b">−1.50</text>
<line x1="147.63" y1="283.9" x2="147.63" y2="288.9" stroke="#111" stroke-width="1.6"/>
<text x="147.63" y="304.4" font-size="12" text-anchor="middle" class="b">−1.00</text>
<line x1="191.31" y1="283.9" x2="191.31" y2="288.9" stroke="#111" stroke-width="1.6"/>
<text x="191.31" y="304.4" font-size="12" text-anchor="middle" class="b">−0.50</text>
<line x1="235.00" y1="283.9" x2="235.00" y2="288.9" stroke="#111" stroke-width="1.6"/>
<text x="235.00" y="304.4" font-size="12" text-anchor="middle" class="b">0.00</text>
<line x1="278.69" y1="283.9" x2="278.69" y2="288.9" stroke="#111" stroke-width="1.6"/>
<text x="278.69" y="304.4" font-size="12" text-anchor="middle" class="b">0.50</text>
<line x1="322.37" y1="283.9" x2="322.37" y2="288.9" stroke="#111" stroke-width="1.6"/>
<text x="322.37" y="304.4" font-size="12" text-anchor="middle" class="b">1.00</text>
<line x1="366.06" y1="283.9" x2="366.06" y2="288.9" stroke="#111" stroke-width="1.6"/>
<text x="366.06" y="304.4" font-size="12" text-anchor="middle" class="b">1.50</text>
<line x1="409.74" y1="283.9" x2="409.74" y2="288.9" stroke="#111" stroke-width="1.6"/>
<text x="409.74" y="304.4" font-size="12" text-anchor="middle" class="b">2.00</text>
<line x1="453.43" y1="283.9" x2="453.43" y2="288.9" stroke="#111" stroke-width="1.6"/>
<text x="453.43" y="304.4" font-size="12" text-anchor="middle" class="b">2.50</text>
<line x1="497.11" y1="283.9" x2="497.11" y2="288.9" stroke="#111" stroke-width="1.6"/>
<text x="497.11" y="304.4" font-size="12" text-anchor="middle" class="b">3.00</text>
<text transform="translate(239.6 325) scale(0.634 1)" font-size="15" font-weight="bold" word-spacing="1.2">Incr. effectiveness (QALY)</text>
<text transform="translate(23.4 191) rotate(-90) scale(0.67 1)" font-size="15" font-weight="bold" word-spacing="1.2">Incr. cost ($)</text>
<text transform="translate(102 78.2) rotate(-41.6)" font-size="10.5" class="b">WTP=150000</text>
</svg></body></html>
